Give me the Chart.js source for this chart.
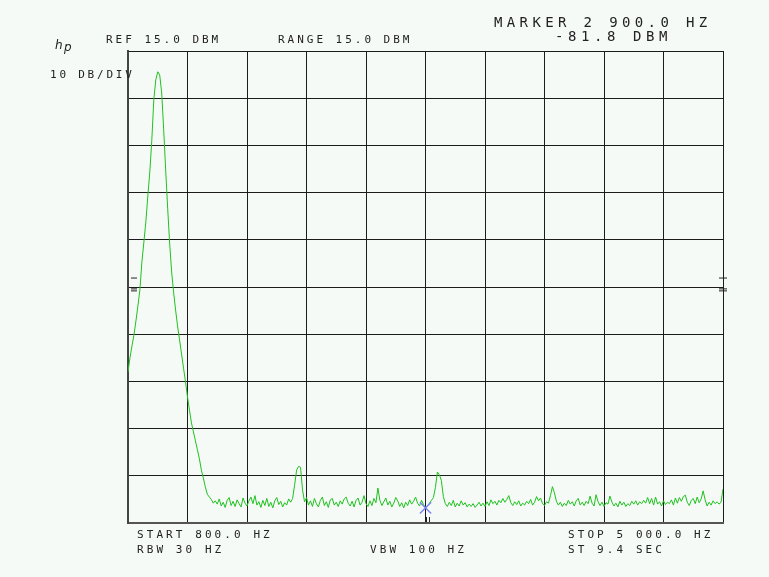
<!DOCTYPE html>
<html>
<head>
<meta charset="utf-8">
<script src="https://cdn.jsdelivr.net/npm/chart.js@4.4.1/dist/chart.umd.min.js"></script>
<style>
  html, body { margin: 0; padding: 0; background: #f6faf7; }
  #wrap { width: 769px; height: 577px; }
</style>
</head>
<body>
<div id="wrap"><canvas id="spectrum"></canvas></div>
<script>
// sweep settings (Hz) and reference level (dBm)
var startHz = 800;
var stopHz = 5000;
var stepHz = 14;
var hzPerDiv = 420;
var refDbm = 15;
var dbPerDiv = 10;

// trace, one value per sweep bin (dBm)
var traceDbm = [
  -53.0, -50.0, -47.5, -45.2, -42.2, -39.0, -35.6, -29.7, -25.5, -21.2,
  -15.7, -10.6, -3.9, 4.6, 8.9, 10.6, 9.9, 6.1, -1.7, -10.2,
  -18.3, -25.7, -31.8, -36.1, -39.9, -43.3, -46.2, -49.2, -52.2, -55.1,
  -58.3, -61.1, -63.8, -65.7, -67.6, -69.5, -71.4, -73.8, -75.5, -77.4,
  -78.9, -79.5, -80.0, -80.8, -80.3,
  -81.0, -79.9, -81.4, -80.6, -81.7,
  -80.2, -79.6, -81.3, -80.4, -81.5, -80.1, -80.9, -81.6, -79.7, -80.8,
  -81.4, -80.3, -79.5, -80.9, -79.2, -81.2, -80.5, -81.7, -80.2, -81.3,
  -79.8, -81.5, -80.6, -81.8, -80.3, -79.6, -81.1, -80.4, -81.6, -80.7,
  -81.2, -79.9, -80.6, -79.8, -77.0, -73.8, -73.0, -73.2, -78.0, -80.5,
  -79.6, -81.2, -80.3, -81.5, -79.8, -80.9, -81.6, -80.2, -79.5, -81.3,
  -80.5, -81.7, -80.1, -79.8, -81.2, -80.6, -81.5, -80.3, -81.0, -79.9,
  -79.5, -80.8, -81.4, -80.4, -81.6, -80.2, -79.7, -81.2, -80.6, -79.2,
  -80.9, -81.5, -80.3, -81.3, -79.8, -80.7, -77.6, -80.2, -81.3, -80.5,
  -79.7, -81.2, -80.4, -81.6, -80.8, -79.6, -80.3, -81.5, -80.7, -81.8,
  -80.6, -81.3, -80.1, -81.0, -80.4, -79.5, -80.8, -81.4, -80.2, -81.1,
  -81.8, -81.3, -80.8, -80.2, -79.6, -77.5, -74.2, -74.8, -76.0, -79.4,
  -80.9, -81.5, -80.6, -81.3, -80.2, -81.6, -80.8, -81.4, -80.3, -81.2,
  -80.7, -81.6, -81.0, -81.5, -80.9, -81.7, -81.2, -80.6, -81.4, -80.8,
  -81.5, -80.5, -81.3, -80.1, -80.9, -80.4, -81.2, -80.2, -80.7, -79.8,
  -80.6, -80.0, -79.2, -80.7, -81.3, -80.5, -81.1, -80.3, -81.4, -80.8,
  -81.2, -80.4, -80.9, -80.0, -81.2, -80.6, -79.4, -80.3, -79.7, -80.9,
  -81.3, -80.5, -80.8, -79.2, -77.3, -78.6, -80.4, -81.2, -80.6, -81.5,
  -80.8, -81.3, -80.2, -81.0, -80.5, -81.4, -80.3, -79.8, -81.2, -80.6,
  -81.3, -80.4, -80.9, -79.3, -80.8, -81.4, -79.0, -80.5, -81.3, -80.6,
  -81.5, -80.7, -81.0, -79.3, -80.6, -81.4, -80.8, -81.6, -80.4, -81.2,
  -80.6, -81.5, -80.9, -81.3, -80.4, -81.0, -80.3, -81.2, -80.5, -80.9,
  -80.2, -80.8, -79.6, -80.9, -79.8, -81.2, -79.5, -81.0, -80.5, -81.4,
  -80.3, -81.1, -80.6, -80.9, -80.1, -81.2, -79.7, -80.8, -79.6, -80.4,
  -79.4, -79.1, -80.6, -81.3, -80.2, -79.8, -80.9, -79.5, -80.7, -79.9,
  -78.2, -80.1, -81.4, -80.6, -81.2, -80.3, -80.9, -80.5, -81.0, -80.6,
  -77.8
];

// marker 2
var markerHz = 2900;
var markerDbm = -81.8;

// annotation text on the screen
var topLabels = ['REF 15.0 DBM', 'RANGE 15.0 DBM', '10 DB/DIV'];
var markerLabels = ['MARKER 2 900.0 HZ', '-81.8 DBM'];
var bottomLabels = ['START 800.0 HZ', 'RBW 30 HZ', 'VBW 100 HZ', 'STOP 5 000.0 HZ', 'ST 9.4 SEC'];

var tracePoints = traceDbm.map(function (v, i) {
    return { x: startHz + i * stepHz, y: v };
});

// draw a string one character per fixed cell, like the plotter font
function drawSpaced(ctx, text, x, y, pitch) {
    for (var i = 0; i < text.length; i++) {
        ctx.fillText(text[i], x + i * pitch, y);
    }
}

var screenText = {
    id: 'screenText',
    beforeDraw: function (chart) {
        var ctx = chart.ctx;
        ctx.save();
        ctx.fillStyle = '#f6faf7';
        ctx.fillRect(0, 0, chart.width, chart.height);
        ctx.restore();
    },
    afterDraw: function (chart) {
        var ctx = chart.ctx;
        var xs = chart.scales.x;
        var ys = chart.scales.y;
        ctx.save();
        ctx.fillStyle = '#222';
        ctx.textBaseline = 'middle';
        ctx.textAlign = 'left';

        ctx.font = 'italic 12px "DejaVu Sans"';
        ctx.fillText('h', 55, 46);
        ctx.fillText('p', 64, 48);

        ctx.font = '11px "DejaVu Sans Mono"';
        drawSpaced(ctx, topLabels[0], 106, 40, 9.6);
        drawSpaced(ctx, topLabels[1], 278, 40, 9.6);
        drawSpaced(ctx, topLabels[2], 50, 75, 9.4);

        drawSpaced(ctx, bottomLabels[0], 137, 535, 9.7);
        drawSpaced(ctx, bottomLabels[1], 137, 550, 9.7);
        drawSpaced(ctx, bottomLabels[2], 370, 550, 9.7);
        drawSpaced(ctx, bottomLabels[3], 568, 535, 9.7);
        drawSpaced(ctx, bottomLabels[4], 568, 550, 9.7);

        ctx.font = '14px "DejaVu Sans Mono"';
        drawSpaced(ctx, markerLabels[0], 494, 23, 12.8);
        drawSpaced(ctx, markerLabels[1], 555, 37, 13);

        // reference marks on both edges
        ctx.strokeStyle = '#222';
        ctx.lineWidth = 1;
        var y1 = ys.getPixelForValue(-33.1);
        var y2 = ys.getPixelForValue(-35.4);
        ctx.beginPath();
        ctx.moveTo(131, y1); ctx.lineTo(137, y1);
        ctx.moveTo(131, y2); ctx.lineTo(137, y2);
        ctx.moveTo(131, y2 + 2); ctx.lineTo(137, y2 + 2);
        ctx.moveTo(xs.right - 4, y1); ctx.lineTo(xs.right + 4, y1);
        ctx.moveTo(xs.right - 4, y2); ctx.lineTo(xs.right + 4, y2);
        ctx.moveTo(xs.right - 4, y2 + 2); ctx.lineTo(xs.right + 4, y2 + 2);
        ctx.stroke();

        // marker number ticks under the cross
        var mx = xs.getPixelForValue(markerHz);
        ctx.beginPath();
        ctx.moveTo(mx + 1, ys.bottom - 6); ctx.lineTo(mx + 1, ys.bottom - 1);
        ctx.moveTo(mx + 4, ys.bottom - 6); ctx.lineTo(mx + 4, ys.bottom - 1);
        ctx.stroke();
        ctx.restore();
    }
};

new Chart(document.getElementById('spectrum'), {
    type: 'scatter',
    data: {
        datasets: [
            {
                label: 'Trace',
                data: tracePoints,
                showLine: true,
                borderColor: '#1ec21e',
                borderWidth: 1,
                pointRadius: 0,
                tension: 0,
                order: 2
            },
            {
                label: 'Marker',
                data: [{ x: markerHz, y: markerDbm }],
                pointStyle: 'crossRot',
                pointRadius: 8,
                borderColor: '#7d86f0',
                borderWidth: 1.5,
                order: 1
            }
        ]
    },
    options: {
        responsive: true,
        maintainAspectRatio: false,
        animation: false,
        layout: { padding: { left: 128, right: 46, top: 51, bottom: 54 } },
        plugins: {
            legend: { display: false },
            tooltip: { enabled: false }
        },
        scales: {
            x: {
                type: 'linear',
                min: startHz,
                max: stopHz,
                ticks: { display: false, stepSize: hzPerDiv },
                grid: { color: '#1c1c1c', lineWidth: 1, drawTicks: false },
                border: { color: '#555', width: 2 },
                afterFit: function (axis) { axis.height = 0; }
            },
            y: {
                type: 'linear',
                min: refDbm - 10 * dbPerDiv,
                max: refDbm,
                ticks: { display: false, stepSize: dbPerDiv },
                grid: { color: '#1c1c1c', lineWidth: 1, drawTicks: false },
                border: { color: '#444', width: 2 },
                afterFit: function (axis) { axis.width = 0; }
            }
        }
    },
    plugins: [screenText]
});
</script>
</body>
</html>
